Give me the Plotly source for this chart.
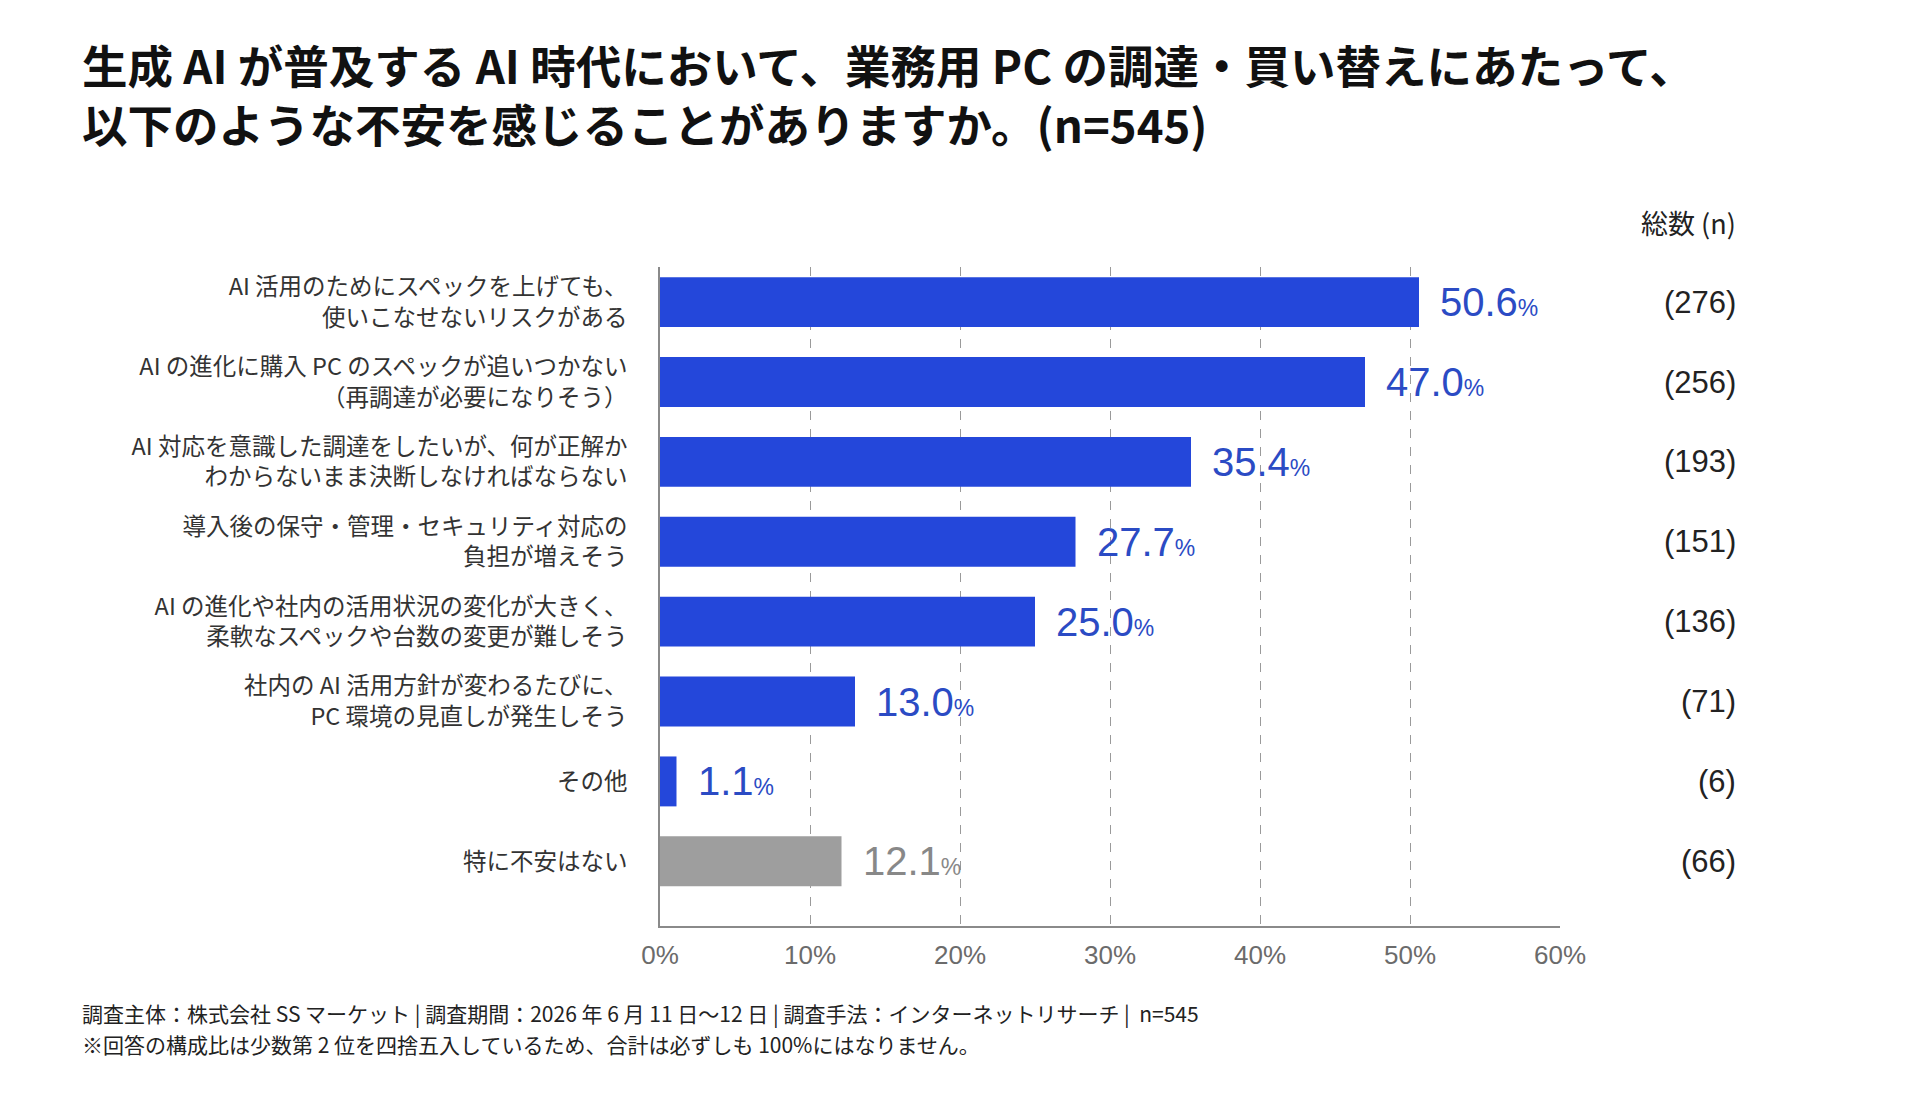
import plotly.graph_objects as go

categories = [
    "AI 活用のためにスペックを上げても、<br>使いこなせないリスクがある",
    "AI の進化に購入 PC のスペックが追いつかない<br>（再調達が必要になりそう）",
    "AI 対応を意識した調達をしたいが、何が正解か<br>わからないまま決断しなければならない",
    "導入後の保守・管理・セキュリティ対応の<br>負担が増えそう",
    "AI の進化や社内の活用状況の変化が大きく、<br>柔軟なスペックや台数の変更が難しそう",
    "社内の AI 活用方針が変わるたびに、<br>PC 環境の見直しが発生しそう",
    "その他",
    "特に不安はない",
]
percentages = [50.6, 47.0, 35.4, 27.7, 25.0, 13.0, 1.1, 12.1]
counts = [276, 256, 193, 151, 136, 71, 6, 66]
x_ticks = [0, 10, 20, 30, 40, 50, 60]

title_lines = [
    "生成 AI が普及する AI 時代において、業務用 PC の調達・買い替えにあたって、",
    "以下のような不安を感じることがありますか。(n=545)",
]
count_header = "総数 (n)"
footer_lines = [
    "調査主体：株式会社 SS マーケット | 調査期間：2026 年 6 月 11 日〜12 日 | 調査手法：インターネットリサーチ |  n=545",
    "※回答の構成比は少数第 2 位を四捨五入しているため、合計は必ずしも 100%にはなりません。",
]

BLUE = "#2447DA"
GRAY = "#9E9E9E"
BLUE_TXT = "#2B4BC4"
GRAY_TXT = "#888888"
CJK = "Noto Sans CJK JP"
NUM = "Liberation Sans"

W, H = 1920, 1093
L, R, T, B = 660, 360, 267, 167
PW = W - L - R
PH = H - T - B


def px_x(px):
    return (px - L) / PW


def px_y(px):
    return (H - B - px) / PH


positions = list(range(len(categories)))
colors = [GRAY if c == "特に不安はない" else BLUE for c in categories]
txt_colors = [GRAY_TXT if c == "特に不安はない" else BLUE_TXT for c in categories]

fig = go.Figure()
fig.add_trace(go.Bar(
    x=percentages, y=positions, orientation="h",
    marker=dict(color=colors, line=dict(width=0)),
    width=0.625, hoverinfo="skip",
))

annotations = []
for p, v, n, tc in zip(positions, percentages, counts, txt_colors):
    annotations.append(dict(
        x=v, y=p, xref="x", yref="y", xanchor="left", yanchor="middle",
        xshift=19, showarrow=False,
        text=f"{v:.1f}<span style='font-size:23px'>%</span>",
        font=dict(family=NUM, size=40, color=tc),
    ))
    annotations.append(dict(
        x=px_x(1738), y=p, xref="paper", yref="y",
        xanchor="right", yanchor="middle", showarrow=False,
        text=f"({n})",
        font=dict(family=NUM, size=31, color="#222222"),
    ))

annotations.append(dict(
    x=px_x(1738), y=px_y(222), xref="paper", yref="paper",
    xanchor="right", yanchor="middle", showarrow=False,
    text=count_header, font=dict(family=CJK, size=27, color="#222222"),
))

annotations.append(dict(
    x=px_x(80), y=px_y(93), xref="paper", yref="paper",
    xanchor="left", yanchor="middle", align="left", showarrow=False,
    text="<br>".join(f"<b>{line}</b>" for line in title_lines),
    font=dict(family=CJK, size=45.5, color="#111111"),
))

for i, line in enumerate(footer_lines):
    annotations.append(dict(
        x=px_x(80), y=px_y(1013 + 31 * i),
        xref="paper", yref="paper", xanchor="left", yanchor="middle",
        showarrow=False, text=line,
        font=dict(family=CJK, size=21, color="#222222"),
    ))

fig.update_layout(
    width=W, height=H,
    margin=dict(l=L, r=R, t=T, b=B, autoexpand=False),
    paper_bgcolor="white", plot_bgcolor="white",
    showlegend=False,
    annotations=annotations,
    xaxis=dict(
        range=[0, 60], tickvals=x_ticks, ticktext=[f"{t}%" for t in x_ticks],
        showgrid=True, gridcolor="#9a9a9a", griddash="dash", gridwidth=1,
        showline=True, linecolor="#8a8a8a", linewidth=1.5,
        zeroline=False, ticks="",
        tickfont=dict(family=NUM, size=26, color="#6b6b6b"),
        ticklabelstandoff=5, fixedrange=True,
    ),
    yaxis=dict(
        range=[7.81, -0.44], tickvals=positions, ticktext=categories,
        showgrid=False, zeroline=False,
        showline=True, linecolor="#8a8a8a", linewidth=1.5,
        ticks="", tickfont=dict(family=CJK, size=23.5, color="#333333"),
        ticklabelstandoff=26, fixedrange=True,
    ),
)

fig.write_html("out.html", config={"displayModeBar": False},
               post_script="document.body.style.margin='0px';")
